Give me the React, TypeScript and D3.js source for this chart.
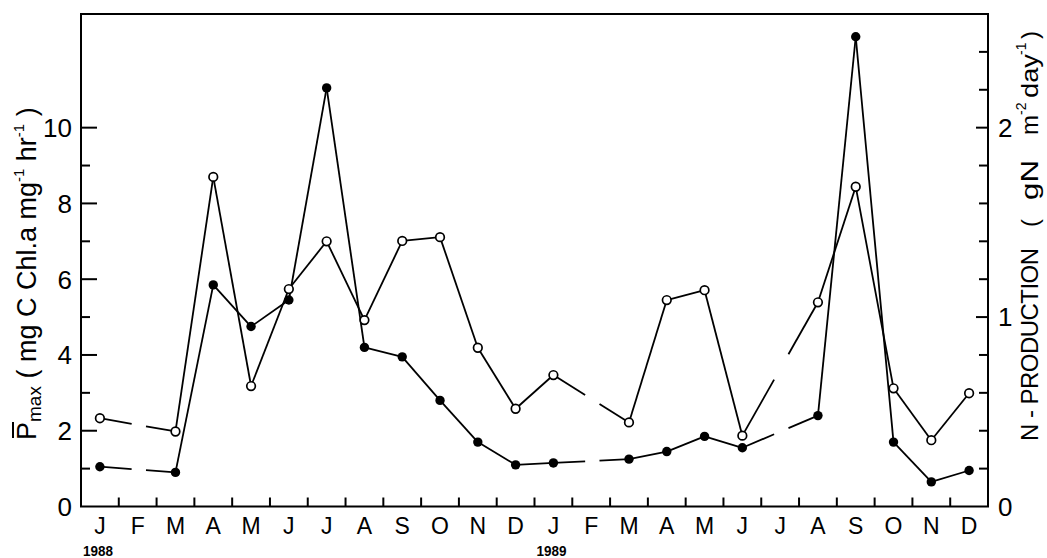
import React from 'react';
import * as d3 from 'd3';

// ---------- data ----------
const months = ['J', 'F', 'M', 'A', 'M', 'J', 'J', 'A', 'S', 'O', 'N', 'D', 'J', 'F', 'M', 'A', 'M', 'J', 'J', 'A', 'S', 'O', 'N', 'D'];
const monthKeys = months.map((m, i) => `${m}${i}`);
const yearLabels = ['1988', '1989'];
const yearStartIndex = [0, 12];

// P̄max (open circles, left axis)
const pmax: (number | null)[] = [2.33, null, 1.98, 8.7, 3.18, 5.74, 7.0, 4.92, 7.01, 7.11, 4.19, 2.58, 3.47, null, 2.22, 5.45, 5.71, 1.87, null, 5.39, 8.44, 3.12, 1.75, 2.99];
// N-production (filled circles, right axis)
const nprod: (number | null)[] = [0.21, null, 0.18, 1.17, 0.95, 1.09, 2.21, 0.84, 0.79, 0.56, 0.34, 0.22, 0.23, null, 0.25, 0.29, 0.37, 0.31, null, 0.48, 2.48, 0.34, 0.13, 0.19];

const leftTicks = [1, 2, 3, 4, 5, 6, 7, 8, 9, 10];
const leftLabels = [0, 2, 4, 6, 8, 10];
const rightTicks = [0.2, 0.4, 0.6, 0.8, 1.0, 1.2, 1.4, 1.6, 1.8, 2.0, 2.2, 2.4];
const rightLabels = [0, 1, 2];

// ---------- layout ----------
const W = 1047, H = 558;
const L = 81, R = 988, T = 14, B = 506.5;
const FONT = '"Liberation Sans", Arial, sans-serif';

const x = d3.scaleBand<string>().domain(monthKeys).range([L, R]).padding(0);
const yL = d3.scaleLinear().domain([0, 13]).range([B, T]);
const yR = d3.scaleLinear().domain([0, 2.6]).range([B, T]);

const cx = (i: number) => (x(monthKeys[i]) as number) + x.bandwidth() / 2;

type Pt = { i: number; px: number; py: number };

function points(vals: (number | null)[], y: d3.ScaleLinear<number, number>): Pt[] {
  const out: Pt[] = [];
  vals.forEach((v, i) => {
    if (v !== null) out.push({ i, px: cx(i), py: y(v) });
  });
  return out;
}

function segments(pts: Pt[]) {
  const segs: [number, number, number, number][] = [];
  const line = d3.line<[number, number]>();
  for (let k = 0; k < pts.length - 1; k++) {
    const a = pts[k], b = pts[k + 1];
    if (b.i - a.i === 1) {
      segs.push([a.px, a.py, b.px, b.py]);
    } else {
      const f1 = 0.42, f2 = 0.61;
      const lerp = (f: number): [number, number] => [a.px + (b.px - a.px) * f, a.py + (b.py - a.py) * f];
      const p1 = lerp(f1), p2 = lerp(f2);
      segs.push([a.px, a.py, p1[0], p1[1]]);
      segs.push([p2[0], p2[1], b.px, b.py]);
    }
  }
  return segs.map((s) => line([[s[0], s[1]], [s[2], s[3]]]) as string);
}

export default function App() {
  const openPts = points(pmax, yL);
  const fillPts = points(nprod, yR);
  const openSegs = segments(openPts);
  const fillSegs = segments(fillPts);
  const bounds = monthKeys.slice(1).map((k) => x(k) as number);

  return (
    <svg width={W} height={H} style={{ position: 'absolute', left: 0, top: 0, background: '#fff' }} fontFamily={FONT}>
      <rect x={0} y={0} width={W} height={H} fill="#fff" />
      {/* frame */}
      <rect x={L} y={T} width={R - L} height={B - T} fill="none" stroke="#000" strokeWidth={2} />

      {/* left ticks */}
      {leftTicks.map((t) => (
        <line key={'lt' + t} x1={L} x2={L + (t % 2 === 0 ? 16 : 9)} y1={yL(t)} y2={yL(t)} stroke="#000" strokeWidth={2} />
      ))}
      {leftLabels.map((t) => (
        <text key={'ll' + t} x={72} y={yL(t)} dy="0.36em" textAnchor="end" fontSize={26}>{t}</text>
      ))}

      {/* right ticks */}
      {rightTicks.map((t) => (
        <line key={'rt' + t} x1={R} x2={R - (Math.abs(t - Math.round(t)) < 1e-6 ? 12 : 9)} y1={yR(t)} y2={yR(t)} stroke="#000" strokeWidth={2} />
      ))}
      {rightLabels.map((t) => (
        <text key={'rl' + t} x={998} y={yR(t)} dy="0.36em" textAnchor="start" fontSize={26}>{t}</text>
      ))}

      {/* bottom ticks */}
      {bounds.map((bx, k) => (
        <line key={'bt' + k} x1={bx} x2={bx} y1={B} y2={B - 9} stroke="#000" strokeWidth={2} />
      ))}
      {months.map((m, i) => (
        <text key={'m' + i} x={cx(i)} y={533.5} textAnchor="middle" fontSize={23}>{m}</text>
      ))}
      {yearLabels.map((yl, k) => (
        <text key={'y' + k} x={cx(yearStartIndex[k]) - 2} y={556} textAnchor="middle" fontSize={15} fontWeight="bold" textLength={30} lengthAdjust="spacingAndGlyphs">{yl}</text>
      ))}

      {/* series lines */}
      {openSegs.map((d, k) => (
        <path key={'os' + k} d={d} fill="none" stroke="#000" strokeWidth={1.8} />
      ))}
      {fillSegs.map((d, k) => (
        <path key={'fs' + k} d={d} fill="none" stroke="#000" strokeWidth={1.8} />
      ))}

      {/* markers */}
      {fillPts.map((p) => (
        <circle key={'fc' + p.i} cx={p.px} cy={p.py} r={4.7} fill="#000" />
      ))}
      {openPts.map((p) => (
        <circle key={'oc' + p.i} cx={p.px} cy={p.py} r={4.3} fill="#fff" stroke="#000" strokeWidth={1.7} />
      ))}

      {/* left axis title */}
      <g transform="translate(36,440) rotate(-90)">
        <line x1={2} x2={18} y1={-23} y2={-23} stroke="#000" strokeWidth={2} />
        <text x={0} y={0} fontSize={27}>
          <tspan>P</tspan>
          <tspan fontSize={19} dy={5}>max</tspan>
          <tspan dy={-5}>{'  ( mg C Chl.a mg'}</tspan>
          <tspan fontSize={15} dy={-12}>-1</tspan>
          <tspan dy={12}>{' hr'}</tspan>
          <tspan fontSize={15} dy={-12}>-1</tspan>
          <tspan dy={12}>{' )'}</tspan>
        </text>
      </g>

      {/* right axis title */}
      <g transform="translate(1038,441) rotate(-90)">
        <text x={0} y={0} fontSize={24} textLength={193} lengthAdjust="spacing">N - PRODUCTION</text>
        <text x={214} y={0} fontSize={24}>(</text>
        <text x={241} y={0} fontSize={24} textLength={40} lengthAdjust="spacingAndGlyphs">gN</text>
        <text x={306} y={0} fontSize={24}>m</text>
        <text x={326} y={-12} fontSize={14}>-2</text>
        <text x={343} y={0} fontSize={24} textLength={44} lengthAdjust="spacingAndGlyphs">day</text>
        <text x={386} y={-12} fontSize={14}>-1</text>
        <text x={402} y={0} fontSize={24}>)</text>
      </g>
    </svg>
  );
}
